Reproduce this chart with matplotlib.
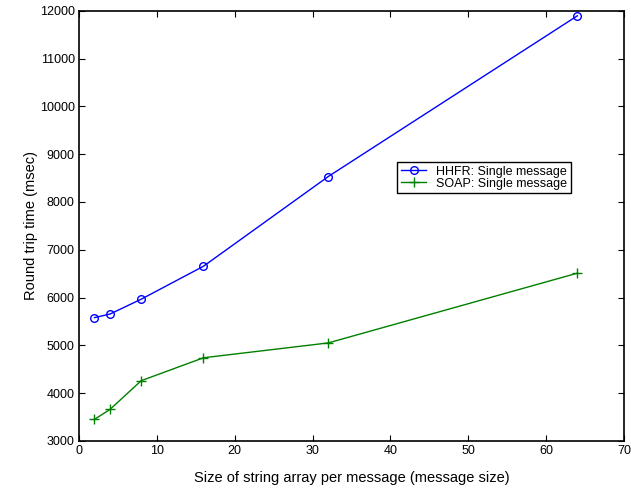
import matplotlib.pyplot as plt

plt.rcParams['font.family'] = ['Liberation Sans', 'DejaVu Sans']

# message sizes and round trip times (msec)
sizes = [2, 4, 8, 16, 32, 64]
hhfr_single = [5580, 5655, 5965, 6655, 8530, 11895]
soap_single = [3450, 3660, 4260, 4740, 5050, 6510]

fig = plt.figure(figsize=(6.31, 4.91), dpi=100)
ax = fig.add_axes([0.125, 0.102, 0.864, 0.876])

ax.plot(sizes, hhfr_single, color=(0, 0, 1), marker='o', markerfacecolor='none',
        markersize=5.5, linewidth=1, label='HHFR: Single message')
ax.plot(sizes, soap_single, color=(0, 0.5, 0), marker='+',
        markersize=6.5, linewidth=1, label='SOAP: Single message')

ax.set_xlim(0, 70)
ax.set_ylim(3000, 12000)
ax.set_xticks(range(0, 71, 10))
ax.set_yticks(range(3000, 12001, 1000))
ax.tick_params(direction='in', top=True, right=True, labelsize=9, length=4, pad=3)
for s in ax.spines.values():
    s.set_linewidth(1.2)

ax.set_xlabel('Size of string array per message (message size)', fontsize=10.5, labelpad=10)
ax.set_ylabel('Round trip time (msec)', fontsize=10.5, labelpad=1)

leg = ax.legend(loc='upper left', bbox_to_anchor=(0.584, 0.649), fontsize=9,
                fancybox=False, framealpha=1, edgecolor='black',
                borderpad=0.3, labelspacing=0.0, handlelength=2.0,
                borderaxespad=0)
leg.get_frame().set_linewidth(1)

fig.savefig('out.png')
